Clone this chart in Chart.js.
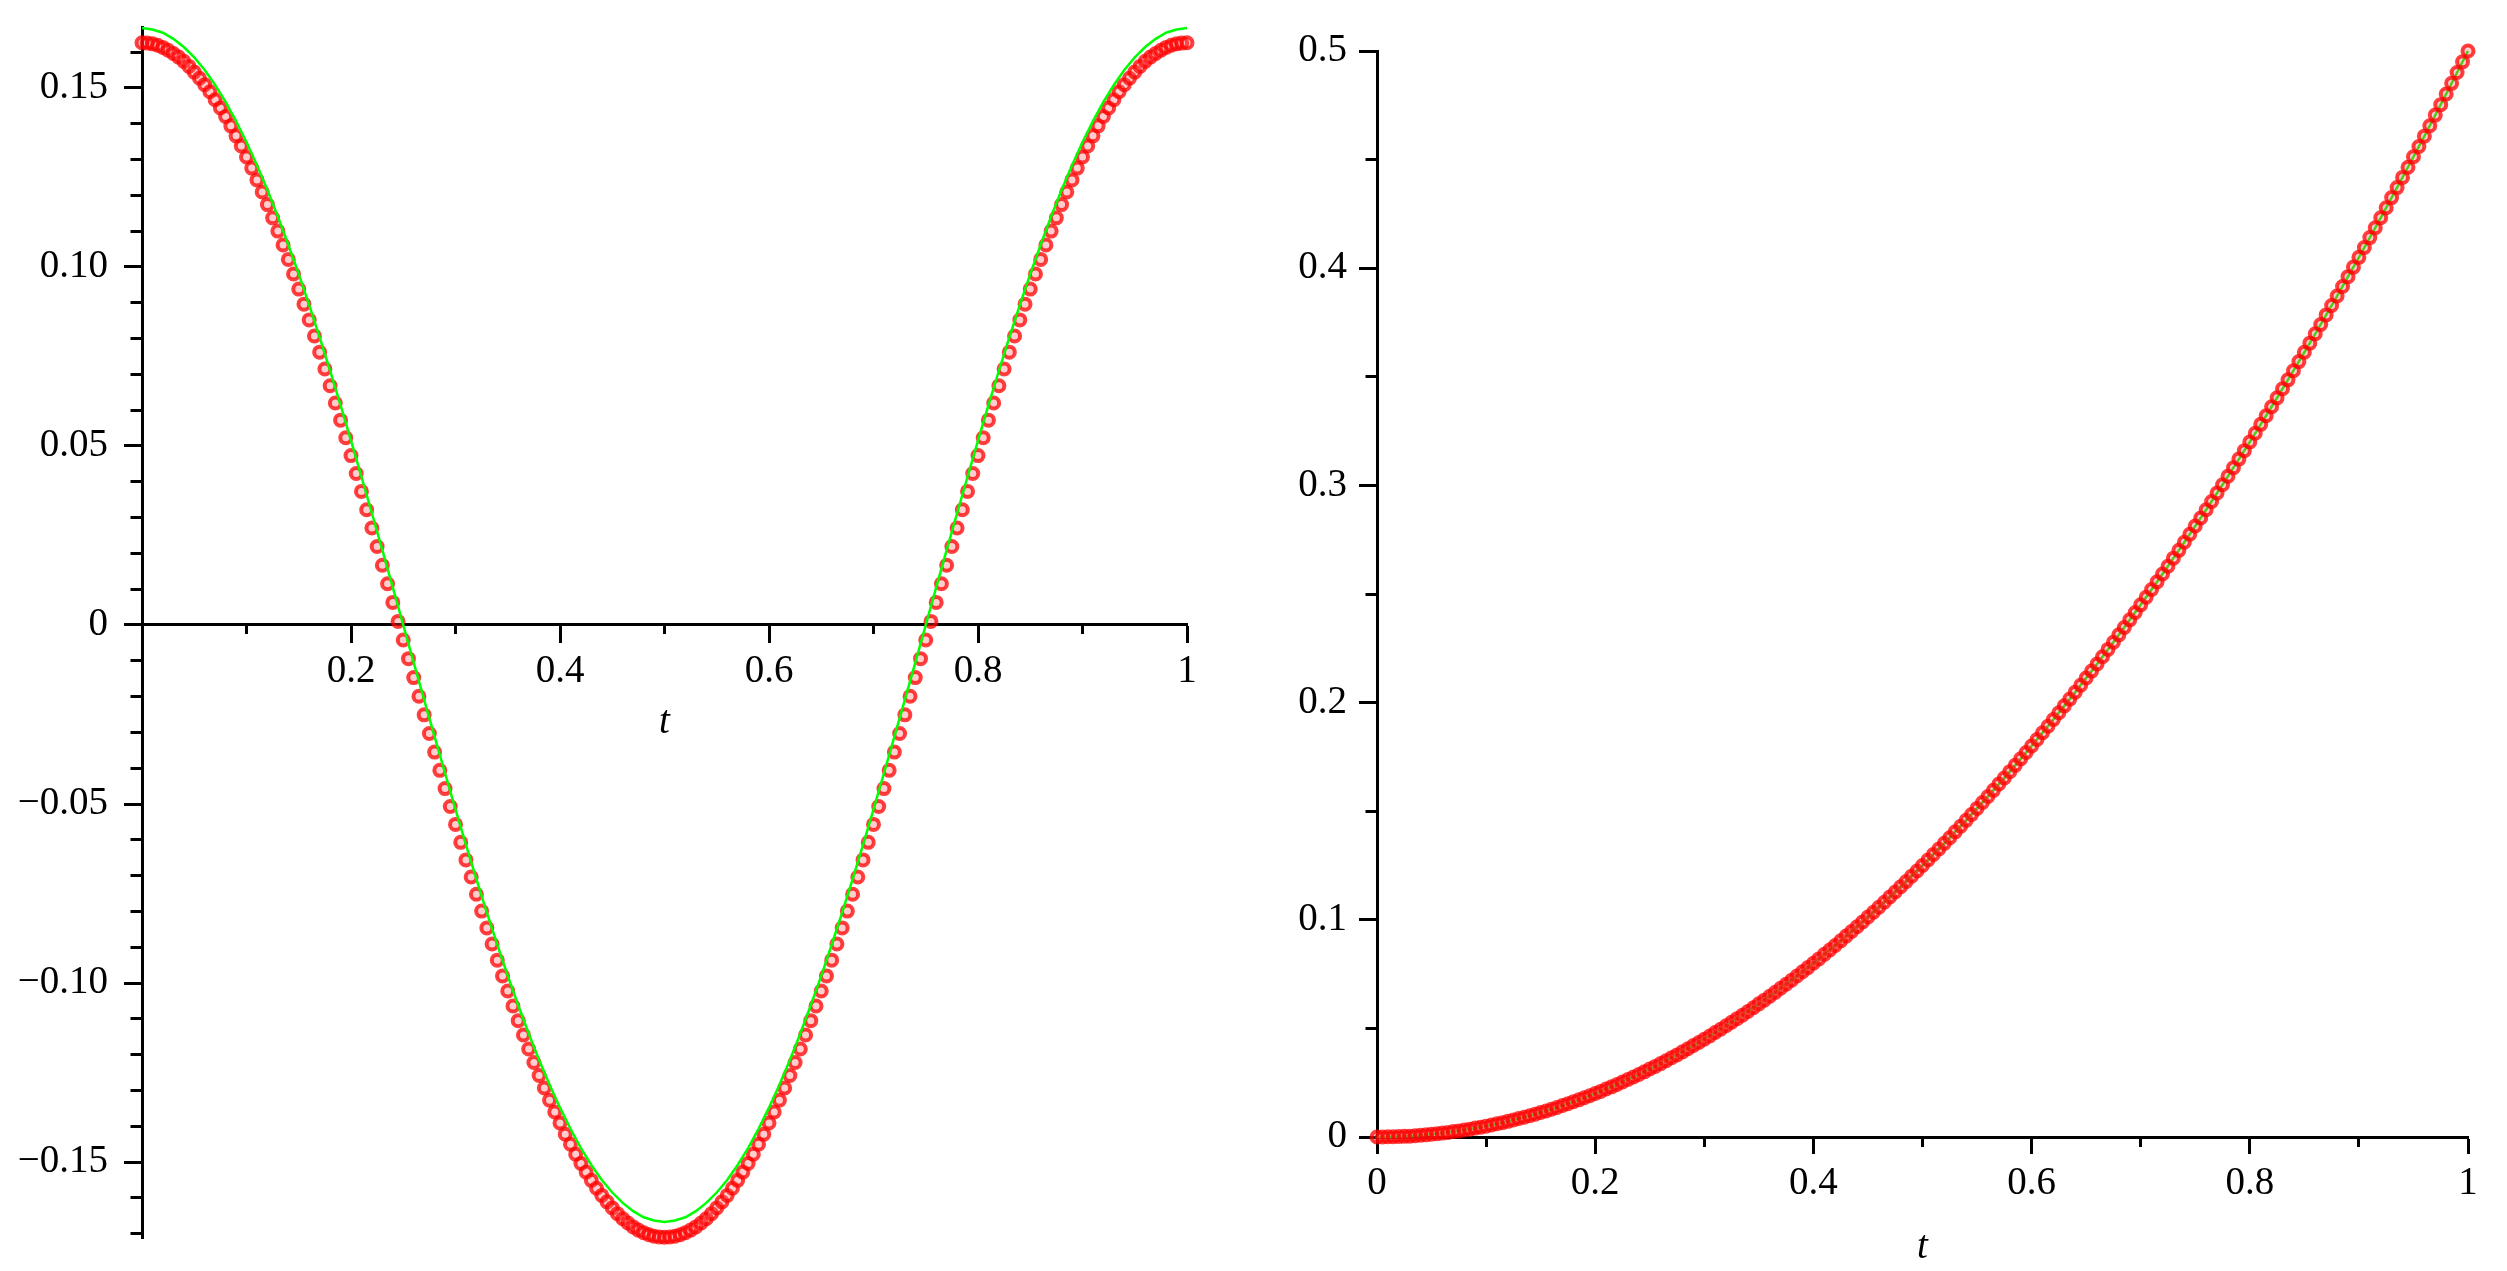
<!DOCTYPE html>
<html>
<head>
<meta charset="utf-8">
<script src="https://cdn.jsdelivr.net/npm/chart.js@4"></script>
<style>
html, body { margin: 0; padding: 0; background: #fff; }
#wrap { position: relative; width: 2507px; height: 1271px; overflow: hidden; }
canvas { position: absolute; top: 0; }
</style>
</head>
<body>
<div id="wrap">
<canvas id="left" width="1230" height="1271" style="left:0px"></canvas>
<canvas id="right" width="1277" height="1271" style="left:1230px"></canvas>
</div>
<script>
// sample positions t
const tFine = [
0,0.005,0.01,0.015,0.02,0.025,0.03,0.035,0.04,0.045,0.05,0.055,0.06,0.065,0.07,0.075,0.08,0.085,0.09,0.095,
0.1,0.105,0.11,0.115,0.12,0.125,0.13,0.135,0.14,0.145,0.15,0.155,0.16,0.165,0.17,0.175,0.18,0.185,0.19,0.195,
0.2,0.205,0.21,0.215,0.22,0.225,0.23,0.235,0.24,0.245,0.25,0.255,0.26,0.265,0.27,0.275,0.28,0.285,0.29,0.295,
0.3,0.305,0.31,0.315,0.32,0.325,0.33,0.335,0.34,0.345,0.35,0.355,0.36,0.365,0.37,0.375,0.38,0.385,0.39,0.395,
0.4,0.405,0.41,0.415,0.42,0.425,0.43,0.435,0.44,0.445,0.45,0.455,0.46,0.465,0.47,0.475,0.48,0.485,0.49,0.495,
0.5,0.505,0.51,0.515,0.52,0.525,0.53,0.535,0.54,0.545,0.55,0.555,0.56,0.565,0.57,0.575,0.58,0.585,0.59,0.595,
0.6,0.605,0.61,0.615,0.62,0.625,0.63,0.635,0.64,0.645,0.65,0.655,0.66,0.665,0.67,0.675,0.68,0.685,0.69,0.695,
0.7,0.705,0.71,0.715,0.72,0.725,0.73,0.735,0.74,0.745,0.75,0.755,0.76,0.765,0.77,0.775,0.78,0.785,0.79,0.795,
0.8,0.805,0.81,0.815,0.82,0.825,0.83,0.835,0.84,0.845,0.85,0.855,0.86,0.865,0.87,0.875,0.88,0.885,0.89,0.895,
0.9,0.905,0.91,0.915,0.92,0.925,0.93,0.935,0.94,0.945,0.95,0.955,0.96,0.965,0.97,0.975,0.98,0.985,0.99,0.995,
1
];
const tCoarse = [
0,0.01,0.02,0.03,0.04,0.05,0.06,0.07,0.08,0.09,
0.1,0.11,0.12,0.13,0.14,0.15,0.16,0.17,0.18,0.19,
0.2,0.21,0.22,0.23,0.24,0.25,0.26,0.27,0.28,0.29,
0.3,0.31,0.32,0.33,0.34,0.35,0.36,0.37,0.38,0.39,
0.4,0.41,0.42,0.43,0.44,0.45,0.46,0.47,0.48,0.49,
0.5,0.51,0.52,0.53,0.54,0.55,0.56,0.57,0.58,0.59,
0.6,0.61,0.62,0.63,0.64,0.65,0.66,0.67,0.68,0.69,
0.7,0.71,0.72,0.73,0.74,0.75,0.76,0.77,0.78,0.79,
0.8,0.81,0.82,0.83,0.84,0.85,0.86,0.87,0.88,0.89,
0.9,0.91,0.92,0.93,0.94,0.95,0.96,0.97,0.98,0.99,
1
];

// left plot: red points (numeric) and green curve (exact)
const leftPoints = [
0.1626,0.1625,0.1623,0.1619,0.1613,0.1605,0.1596,0.1586,0.1574,0.1560,
0.1544,0.1527,0.1509,0.1489,0.1467,0.1444,0.1420,0.1394,0.1366,0.1338,
0.1307,0.1276,0.1243,0.1209,0.1174,0.1137,0.1100,0.1061,0.1021,0.0980,
0.0938,0.0896,0.0852,0.0807,0.0762,0.0715,0.0668,0.0620,0.0572,0.0523,
0.0473,0.0423,0.0373,0.0322,0.0271,0.0219,0.0167,0.0115,0.0063,0.0010,
-0.0042,-0.0094,-0.0147,-0.0199,-0.0251,-0.0303,-0.0355,-0.0406,-0.0457,-0.0507,
-0.0557,-0.0607,-0.0656,-0.0704,-0.0752,-0.0799,-0.0846,-0.0891,-0.0936,-0.0980,
-0.1022,-0.1064,-0.1105,-0.1145,-0.1184,-0.1222,-0.1258,-0.1293,-0.1327,-0.1360,
-0.1391,-0.1422,-0.1450,-0.1478,-0.1504,-0.1528,-0.1551,-0.1573,-0.1593,-0.1611,
-0.1628,-0.1644,-0.1658,-0.1670,-0.1681,-0.1690,-0.1697,-0.1703,-0.1707,-0.1709,
-0.1710,
-0.1709,-0.1707,-0.1703,-0.1697,-0.1690,-0.1681,-0.1670,-0.1658,-0.1644,-0.1628,
-0.1611,-0.1593,-0.1573,-0.1551,-0.1528,-0.1504,-0.1478,-0.1450,-0.1422,-0.1391,
-0.1360,-0.1327,-0.1293,-0.1258,-0.1222,-0.1184,-0.1145,-0.1105,-0.1064,-0.1022,
-0.0980,-0.0936,-0.0891,-0.0846,-0.0799,-0.0752,-0.0704,-0.0656,-0.0607,-0.0557,
-0.0507,-0.0457,-0.0406,-0.0355,-0.0303,-0.0251,-0.0199,-0.0147,-0.0094,-0.0042,
0.0010,0.0063,0.0115,0.0167,0.0219,0.0271,0.0322,0.0373,0.0423,0.0473,
0.0523,0.0572,0.0620,0.0668,0.0715,0.0762,0.0807,0.0852,0.0896,0.0938,
0.0980,0.1021,0.1061,0.1100,0.1137,0.1174,0.1209,0.1243,0.1276,0.1307,
0.1338,0.1366,0.1394,0.1420,0.1444,0.1467,0.1489,0.1509,0.1527,0.1544,
0.1560,0.1574,0.1586,0.1596,0.1605,0.1613,0.1619,0.1623,0.1625,0.1626
];
const leftCurve = [
0.1667,0.1663,0.1654,0.1637,0.1614,0.1585,0.1550,0.1508,0.1461,0.1407,
0.1348,0.1284,0.1215,0.1141,0.1062,0.0980,0.0893,0.0803,0.0710,0.0614,
0.0515,0.0414,0.0312,0.0209,0.0105,0,-0.0105,-0.0209,-0.0312,-0.0414,
-0.0515,-0.0614,-0.0710,-0.0803,-0.0893,-0.0980,-0.1062,-0.1141,-0.1215,-0.1284,
-0.1348,-0.1407,-0.1461,-0.1508,-0.1550,-0.1585,-0.1614,-0.1637,-0.1654,-0.1663,
-0.1667,
-0.1663,-0.1654,-0.1637,-0.1614,-0.1585,-0.1550,-0.1508,-0.1461,-0.1407,-0.1348,
-0.1284,-0.1215,-0.1141,-0.1062,-0.0980,-0.0893,-0.0803,-0.0710,-0.0614,-0.0515,
-0.0414,-0.0312,-0.0209,-0.0105,0,0.0105,0.0209,0.0312,0.0414,0.0515,
0.0614,0.0710,0.0803,0.0893,0.0980,0.1062,0.1141,0.1215,0.1284,0.1348,
0.1407,0.1461,0.1508,0.1550,0.1585,0.1614,0.1637,0.1654,0.1663,0.1667
];

// right plot
const rightPoints = [
0,0.0000,0.0001,0.0001,0.0002,0.0003,0.0004,0.0006,0.0008,0.0010,
0.0013,0.0015,0.0018,0.0021,0.0025,0.0028,0.0032,0.0036,0.0041,0.0045,
0.0050,0.0055,0.0061,0.0066,0.0072,0.0078,0.0085,0.0091,0.0098,0.0105,
0.0113,0.0120,0.0128,0.0136,0.0145,0.0153,0.0162,0.0171,0.0181,0.0190,
0.0200,0.0210,0.0221,0.0231,0.0242,0.0253,0.0265,0.0276,0.0288,0.0300,
0.0313,0.0325,0.0338,0.0351,0.0365,0.0378,0.0392,0.0406,0.0421,0.0435,
0.0450,0.0465,0.0481,0.0496,0.0512,0.0528,0.0545,0.0561,0.0578,0.0595,
0.0613,0.0630,0.0648,0.0666,0.0685,0.0703,0.0722,0.0741,0.0761,0.0780,
0.0800,0.0820,0.0841,0.0861,0.0882,0.0903,0.0925,0.0946,0.0968,0.0990,
0.1013,0.1035,0.1058,0.1081,0.1105,0.1128,0.1152,0.1176,0.1201,0.1225,
0.1250,0.1275,0.1301,0.1326,0.1352,0.1378,0.1405,0.1431,0.1458,0.1485,
0.1513,0.1540,0.1568,0.1596,0.1625,0.1653,0.1682,0.1711,0.1741,0.1770,
0.1800,0.1830,0.1861,0.1891,0.1922,0.1953,0.1985,0.2016,0.2048,0.2080,
0.2113,0.2145,0.2178,0.2211,0.2245,0.2278,0.2312,0.2346,0.2381,0.2415,
0.2450,0.2485,0.2521,0.2556,0.2592,0.2628,0.2665,0.2701,0.2738,0.2775,
0.2813,0.2850,0.2888,0.2926,0.2965,0.3003,0.3042,0.3081,0.3121,0.3160,
0.3200,0.3240,0.3281,0.3321,0.3362,0.3403,0.3445,0.3486,0.3528,0.3570,
0.3613,0.3655,0.3698,0.3741,0.3785,0.3828,0.3872,0.3916,0.3961,0.4005,
0.4050,0.4095,0.4141,0.4186,0.4232,0.4278,0.4325,0.4371,0.4418,0.4465,
0.4513,0.4560,0.4608,0.4656,0.4705,0.4753,0.4802,0.4851,0.4901,0.4950,
0.5000
];
const rightCurve = [
0,0.0001,0.0002,0.0005,0.0008,0.0013,0.0018,0.0025,0.0032,0.0041,
0.0050,0.0061,0.0072,0.0085,0.0098,0.0113,0.0128,0.0145,0.0162,0.0181,
0.0200,0.0221,0.0242,0.0265,0.0288,0.0313,0.0338,0.0365,0.0392,0.0421,
0.0450,0.0481,0.0512,0.0545,0.0578,0.0613,0.0648,0.0685,0.0722,0.0761,
0.0800,0.0841,0.0882,0.0925,0.0968,0.1013,0.1058,0.1105,0.1152,0.1201,
0.1250,0.1301,0.1352,0.1405,0.1458,0.1513,0.1568,0.1625,0.1682,0.1741,
0.1800,0.1861,0.1922,0.1985,0.2048,0.2113,0.2178,0.2245,0.2312,0.2381,
0.2450,0.2521,0.2592,0.2665,0.2738,0.2813,0.2888,0.2965,0.3042,0.3121,
0.3200,0.3281,0.3362,0.3445,0.3528,0.3613,0.3698,0.3785,0.3872,0.3961,
0.4050,0.4141,0.4232,0.4325,0.4418,0.4513,0.4608,0.4705,0.4802,0.4901,
0.5000
];

const FONT = '"Liberation Serif", "Times New Roman", serif';
const FS = 39;

function isMajor(v, step) {
    const r = v / step;
    return Math.abs(r - Math.round(r)) < 1e-6;
}
function pairs(xs, ys) {
    return xs.map((x, i) => ({ x: x, y: ys[i] }));
}
function fmtLeftY(v) {
    if (Math.abs(v) < 1e-9) return '0';
    const s = Math.abs(v).toFixed(2);
    return v < 0 ? '\u2212' + s : s;
}
function fmtRightY(v) {
    if (Math.abs(v) < 1e-9) return '0';
    return v.toFixed(1);
}
function fmtX(v) {
    if (Math.abs(v) < 1e-9) return '0';
    if (Math.abs(v - 1) < 1e-9) return '1';
    return v.toFixed(1);
}

const redStyle = {
    showLine: false,
    pointRadius: 5.5,
    pointBorderWidth: 4,
    pointBorderColor: 'rgba(255,0,0,0.75)',
    pointBackgroundColor: 'rgba(255,90,90,0.3)',
    clip: false
};
const greenStyle = {
    showLine: true,
    borderColor: '#00ff00',
    borderWidth: 2.5,
    pointRadius: 0,
    tension: 0,
    clip: false
};

// x axis: ticks go down from the line, minor ticks shorter
function xScale(extra, majorStep, labelFn) {
    return Object.assign({
        type: 'linear', min: 0, max: 1,
        border: { color: '#000', width: 3 },
        grid: {
            drawOnChartArea: false, color: '#000', tickColor: '#000', tickWidth: 3, tickLength: 17,
            tickBorderDash: c => isMajor(c.tick.value, majorStep) ? [] : [8, 40]
        },
        ticks: {
            stepSize: 0.1, autoSkip: false, maxRotation: 0, includeBounds: false, maxTicksLimit: 1000,
            padding: 6, color: '#000', font: { family: FONT, size: FS },
            callback: v => isMajor(v, majorStep) ? labelFn(v) : ''
        },
        title: {
            display: true, text: 't', color: '#000',
            font: { family: FONT, size: FS, style: 'italic' }, padding: { top: 0, bottom: 0 }
        }
    }, extra);
}
// y axis on the left: ticks drawn from outer end to axis, so minor dash starts with a gap
function yScale(extra, step, majorStep, labelFn, pad, width) {
    return Object.assign({
        type: 'linear', position: 'left',
        border: { color: '#000', width: 3 },
        grid: {
            drawOnChartArea: false, color: '#000', tickColor: '#000', tickWidth: 3, tickLength: 18,
            tickBorderDash: c => isMajor(c.tick.value, majorStep) ? [] : [0, 6.5, 40]
        },
        ticks: {
            stepSize: step, autoSkip: false, includeBounds: false, maxTicksLimit: 1000,
            padding: pad, color: '#000', font: { family: FONT, size: FS },
            callback: v => isMajor(v, majorStep) ? labelFn(v) : ''
        },
        // fixed width, and no extra room above/below for the end labels
        afterFit: s => { s.width = width; s.paddingTop = 0; s.paddingBottom = 0; }
    }, extra);
}

const common = {
    responsive: false,
    animation: false,
    events: [],
    plugins: { legend: { display: false }, tooltip: { enabled: false } }
};

new Chart(document.getElementById('left'), {
    type: 'scatter',
    data: {
        datasets: [
            Object.assign({ data: pairs(tCoarse, leftCurve) }, greenStyle),
            Object.assign({ data: pairs(tFine, leftPoints) }, redStyle)
        ]
    },
    options: Object.assign({}, common, {
        layout: { padding: { left: 0, right: 43, top: 27, bottom: 33 } },
        scales: {
            x: xScale({ position: { y: 0 }, afterFit: s => { s.height = 121; } }, 0.2,
                v => (Math.abs(v) < 1e-9 ? '' : fmtX(v))),
            y: yScale({ min: -0.1712, max: 0.167 }, 0.01, 0.05, fmtLeftY, 16, 142)
        }
    })
});

new Chart(document.getElementById('right'), {
    type: 'scatter',
    data: {
        datasets: [
            Object.assign({ data: pairs(tFine, rightPoints) }, redStyle),
            Object.assign({ data: pairs(tCoarse, rightCurve) }, greenStyle)
        ]
    },
    options: Object.assign({}, common, {
        layout: { padding: { left: 0, right: 39, top: 51, bottom: 0 } },
        scales: {
            x: xScale({ position: 'bottom', afterFit: s => { s.height = 134; } }, 0.2, fmtX),
            y: yScale({ min: 0, max: 0.5 }, 0.05, 0.1, fmtRightY, 12, 147)
        }
    })
});
</script>
</body>
</html>
